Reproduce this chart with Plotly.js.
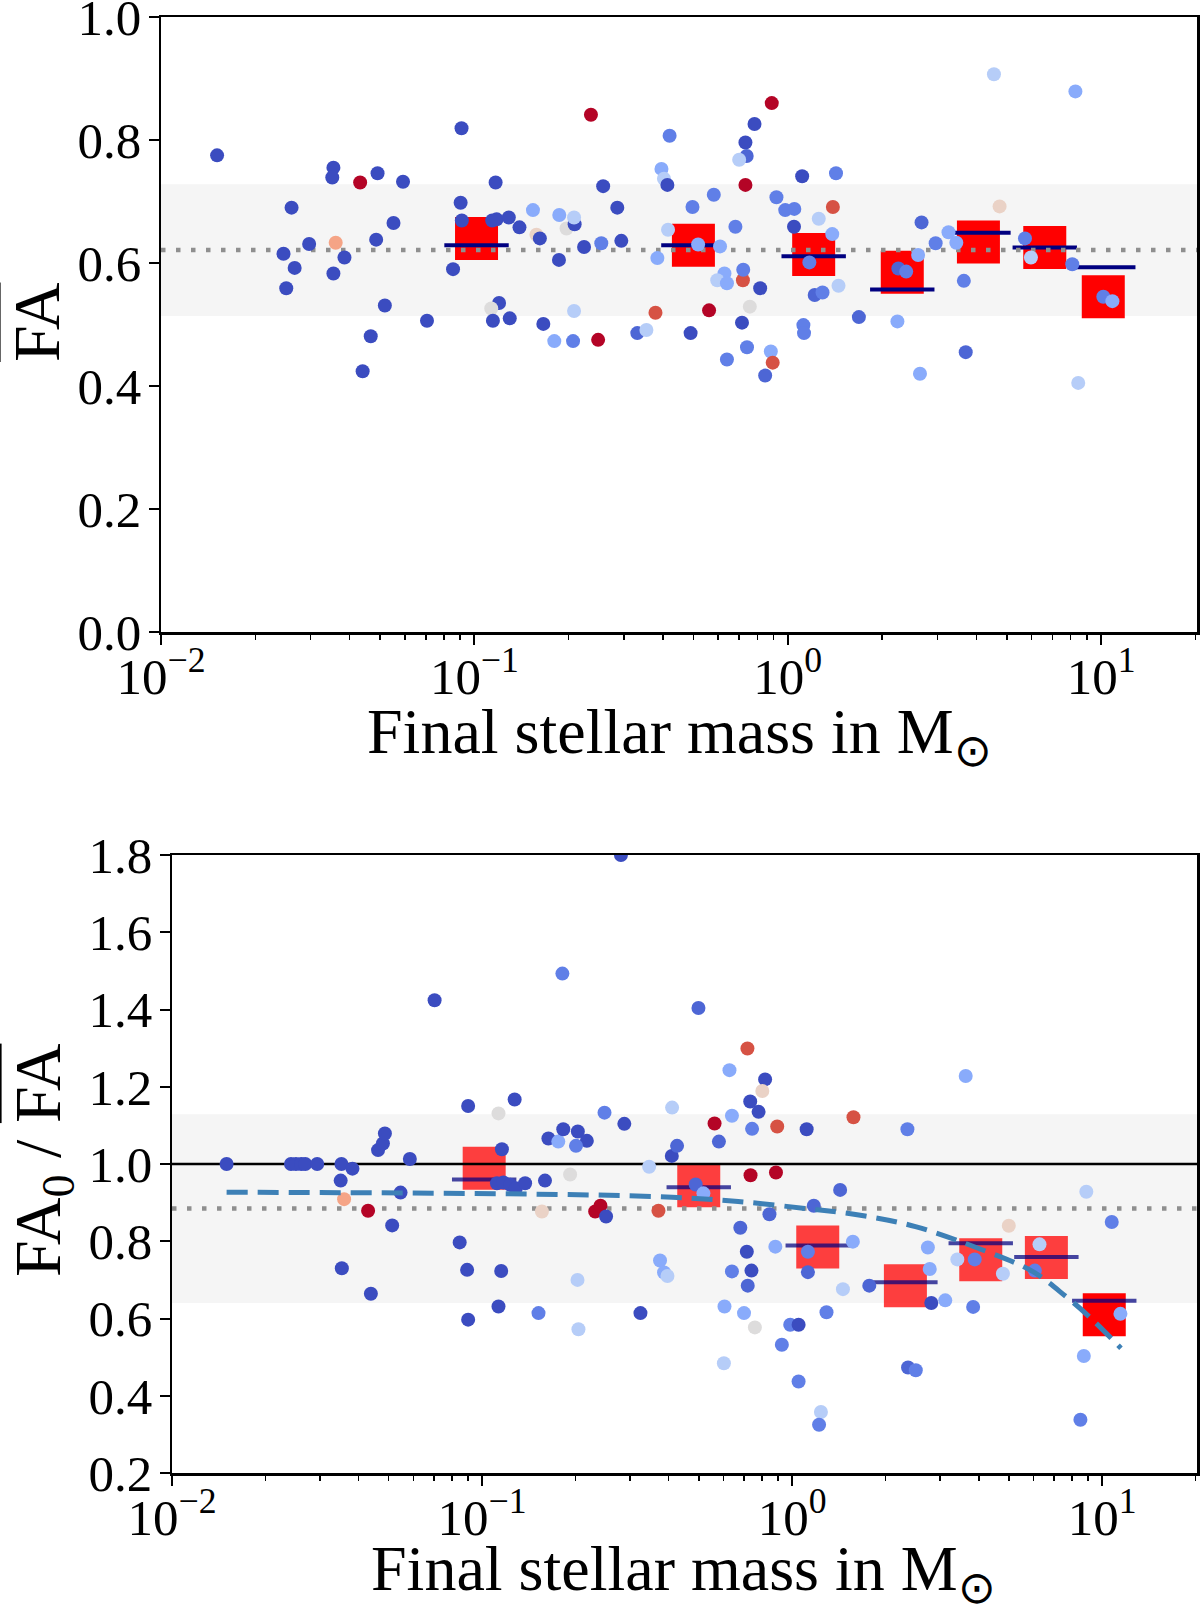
<!DOCTYPE html>
<html>
<head>
<meta charset="utf-8">
<script src="https://cdn.plot.ly/plotly-3.0.1.min.js"></script>
<style>
  html, body { margin: 0; padding: 0; background: #fff; }
  #chart { width: 1200px; height: 1609px; }
</style>
</head>
<body>
<div id="chart"></div>
<script>
// ── data ────────────────────────────────────────────────────────────────────

// top panel: mean FA per star
const massTop = [
  0.0151, 0.0261, 0.0246, 0.0267, 0.0251, 0.0297, 0.0355, 0.0352, 0.0361, 0.0355,
  0.0385, 0.0432, 0.0491, 0.0486, 0.0552, 0.0592, 0.0467, 0.0440, 0.0518, 0.0706,
  0.0910, 0.0904, 0.0912, 0.0855, 0.1169, 0.1140, 0.1178, 0.1288, 0.1393, 0.1199,
  0.1132, 0.1146, 0.1297, 0.1538, 0.1578, 0.1618, 0.1660, 0.1799, 0.1866, 0.1862,
  0.1968, 0.2089, 0.2080, 0.2080, 0.2065, 0.2239, 0.2355, 0.2483, 0.2541, 0.2576,
  0.2858, 0.2944, 0.3311, 0.3540, 0.3784, 0.3837, 0.3954, 0.4027, 0.4130, 0.4150,
  0.4198, 0.4966, 0.5176, 0.6081, 0.5808, 0.6808, 0.6281, 0.5957, 0.6397, 0.7194,
  0.7211, 0.8166, 0.7568, 0.7145, 0.7413, 0.6397, 0.8831, 0.8954, 0.8472, 0.5610,
  0.4898, 0.7328, 0.7834, 0.8892, 0.7328, 0.7396, 0.6998, 0.9204, 0.9817, 1.0495,
  1.0471, 1.1117, 1.4256, 1.2560, 1.3868, 1.3932, 1.1722, 1.4521, 1.2190, 1.2912,
  1.1220, 1.1272, 1.6866, 2.2387, 2.6424, 2.2542, 2.3878, 2.6062, 2.6730, 2.9648,
  3.2584, 3.4514, 3.6475, 3.6983, 4.5499, 4.7424, 5.7148, 5.9704, 8.0910, 8.2794,
  8.4528, 10.163, 10.864
];
const faTop = [
  0.775, 0.690, 0.615, 0.592, 0.559, 0.631, 0.755, 0.739, 0.633, 0.583,
  0.609, 0.731, 0.746, 0.638, 0.665, 0.732, 0.481, 0.424, 0.531, 0.506,
  0.819, 0.698, 0.669, 0.590, 0.731, 0.669, 0.671, 0.674, 0.658, 0.535,
  0.526, 0.506, 0.510, 0.686, 0.646, 0.640, 0.501, 0.473, 0.678, 0.605,
  0.656, 0.663, 0.674, 0.522, 0.473, 0.626, 0.841, 0.475, 0.632, 0.725,
  0.690, 0.636, 0.486, 0.491, 0.519, 0.608, 0.753, 0.737, 0.727, 0.654,
  0.807, 0.691, 0.630, 0.627, 0.711, 0.659, 0.583, 0.572, 0.567, 0.572,
  0.589, 0.559, 0.529, 0.503, 0.463, 0.443, 0.456, 0.438, 0.417, 0.523,
  0.486, 0.727, 0.826, 0.860, 0.796, 0.774, 0.768, 0.707, 0.686, 0.688,
  0.659, 0.741, 0.746, 0.672, 0.647, 0.691, 0.601, 0.563, 0.548, 0.552,
  0.499, 0.486, 0.512, 0.505, 0.420, 0.591, 0.586, 0.613, 0.666, 0.632,
  0.650, 0.633, 0.571, 0.455, 0.907, 0.692, 0.640, 0.609, 0.598, 0.879,
  0.405, 0.545, 0.538
];
// colour value of each star on the coolwarm scale (0 = blue, 1 = red)
const colTop = [
  0, 0, 0, 0, 0, 0, 0, 0, .72, 0,
  0, 1, 0, 0, 0, 0, 0, 0, 0, 0,
  0, 0, 0, 0, 0, 0, 0, 0, 0, 0,
  .5, 0, 0, .24, .56, 0, 0, .24, .24, 0,
  .5, 0, .37, .37, .12, 0, 1, 1, .12, 0,
  0, 0, .06, .37, .9, .24, .24, .37, 0, .37,
  .12, .12, .24, .24, .12, .12, .24, .37, .24, .9,
  .12, 0, .5, 0, .12, .12, .24, .9, .06, 1,
  0, 1, 0, 1, 0, .06, .37, .12, .12, .12,
  0, 0, .12, .37, .24, .9, .12, .37, .06, .12,
  .12, .12, .06, .24, .24, .06, .12, .24, .06, .12,
  .24, .24, .12, .06, .37, .56, .12, .37, .12, .24,
  .37, .12, .24
];

// bottom panel: FA_0 / mean FA per star
const massBot = [
  0.0150, 0.0242, 0.0251, 0.0261, 0.0269, 0.0294, 0.0352, 0.0382, 0.0350, 0.0359,
  0.0429, 0.0462, 0.0479, 0.0486, 0.0513, 0.0546, 0.0585, 0.0353, 0.0438, 0.0703,
  0.0902, 0.0847, 0.0895, 0.0902, 0.1130, 0.1274, 0.1159, 0.1117, 0.1172, 0.1233,
  0.1285, 0.1377, 0.1153, 0.1130, 0.1521, 0.1560, 0.1596, 0.1637, 0.1762, 0.1828,
  0.1816, 0.2037, 0.2178, 0.2009, 0.1923, 0.2032, 0.2046, 0.2317, 0.2410, 0.2512,
  0.2483, 0.2877, 0.3243, 0.3459, 0.3707, 0.3750, 0.3864, 0.3963, 0.4102, 0.4093,
  0.4256, 0.4887, 0.5176, 0.4989, 0.5623, 0.5808, 0.6397, 0.6281, 0.7178, 0.8185,
  0.8017, 0.7328, 0.7798, 0.7430, 0.8954, 0.7345, 0.8872, 1.1143, 1.5776, 1.4289,
  1.1749, 0.8453, 0.6808, 0.7145, 0.6397, 0.7396, 0.7194, 0.8831, 1.1246, 1.1246,
  1.5704, 1.4588, 1.2912, 0.6053, 0.6998, 0.7586, 0.9863, 1.0495, 0.9268, 0.6026,
  1.0495, 0.2805, 2.3550, 3.6308, 1.7742, 2.7416, 2.7797, 2.8119, 3.1189, 2.3659,
  2.5061, 3.4119, 3.8815, 3.8371, 4.7863, 5.0003, 6.2806, 6.0674, 8.8920, 10.740,
  11.455, 8.7297, 8.5114, 1.2388, 1.2218
];
const ratioBot = [
  1.000, 1.000, 1.000, 1.000, 1.000, 1.000, 1.000, 0.988, 0.957, 0.909,
  0.879, 1.036, 1.053, 1.079, 0.841, 0.926, 1.013, 0.730, 0.664, 1.424,
  1.150, 0.797, 0.726, 0.597, 1.131, 1.167, 1.038, 0.950, 0.952, 0.946,
  0.937, 0.950, 0.723, 0.631, 0.614, 0.877, 0.957, 1.066, 1.058, 1.090,
  1.493, 1.084, 1.060, 1.047, 0.973, 0.700, 0.572, 0.877, 0.892, 0.864,
  1.133, 1.104, 0.614, 0.993, 0.879, 0.750, 0.719, 0.710, 1.146, 1.021,
  1.047, 0.947, 0.924, 1.404, 1.105, 1.058, 1.125, 1.243, 1.299, 1.219,
  1.189, 1.162, 1.135, 1.091, 1.097, 0.971, 0.978, 1.090, 1.121, 0.933,
  0.892, 0.870, 0.835, 0.773, 0.722, 0.724, 0.685, 0.786, 0.773, 0.720,
  0.799, 0.676, 0.616, 0.631, 0.614, 0.577, 0.584, 0.584, 0.532, 0.484,
  0.437, 1.800, 1.090, 1.228, 0.685, 0.784, 0.728, 0.640, 0.647, 0.473,
  0.466, 0.753, 0.753, 0.630, 0.716, 0.840, 0.792, 0.724, 0.928, 0.850,
  0.612, 0.503, 0.338, 0.358, 0.325
];
const colBot = [
  0, 0, 0, 0, 0, 0, 0, 0, 0, .72,
  1, 0, 0, 0, 0, 0, 0, 0, 0, 0,
  0, 0, 0, 0, .5, 0, 0, 0, 0, 0,
  0, 0, 0, 0, .12, .56, 0, 0, .24, 0,
  .12, 0, 0, .12, .5, .37, .37, 1, 1, 0,
  .12, 0, 0, .37, .9, .24, .24, .37, .37, 0,
  .06, .06, .24, .06, 1, .06, .24, .24, .9, 0,
  .56, 0, 0, .12, .9, 1, 1, 0, .9, .06,
  .06, .06, .06, 0, .12, 0, .06, .24, .12, .06,
  .24, .37, .12, .24, .24, .5, .12, 0, .12, .37,
  .12, 0, .12, .24, .06, .24, .24, 0, .24, .06,
  .12, .37, .12, .12, .37, .56, .37, .12, .37, .12,
  .24, .24, .12, .37, .12
];

// mass bins: mean (red squares) and median (dark bars)
const binMass    = [0.1016, 0.50, 1.21, 2.32, 4.06, 6.61, 10.16];
const binMeanTop = [0.640, 0.629, 0.614, 0.585, 0.634, 0.625, 0.545];
const binMedTop  = [0.629, 0.629, 0.611, 0.557, 0.649, 0.625, 0.593];
const binMeanBot = [0.989, 0.944, 0.785, 0.685, 0.752, 0.758, 0.610];
const binMedBot  = [0.960, 0.940, 0.789, 0.694, 0.795, 0.759, 0.646];
const binAlphaBot = [0.75, 0.75, 0.75, 0.75, 0.75, 0.75, 1.0];

// dashed trend in the lower panel
const fitMass  = [0.015, 0.15, 0.41, 0.67, 1.10, 1.64, 2.50, 4.10, 5.96, 7.64, 9.08, 11.5];
const fitRatio = [0.927, 0.922, 0.914, 0.903, 0.885, 0.868, 0.838, 0.778, 0.722, 0.657, 0.605, 0.523];

// sample mean and +-1 sigma band
const meanTop = 0.621;
const bandTop = [0.514, 0.728];
const meanBot = 0.885;
const bandBot = [0.640, 1.129];
const unity = 1.0;

// axes
const xRangeLog = [-2, 1.306];
const yRangeTop = [0, 1];
const yRangeBot = [0.2, 1.8];
const yTicksTop = [0, 0.2, 0.4, 0.6, 0.8, 1.0];
const yTicksBot = [0.2, 0.4, 0.6, 0.8, 1.0, 1.2, 1.4, 1.6, 1.8];
const xMajor = [0.01, 0.1, 1, 10];
const xMajorText = ['10<sup>\u22122</sup>', '10<sup>\u22121</sup>', '10<sup>0</sup>', '10<sup>1</sup>'];
const xMinor = [0.02, 0.03, 0.04, 0.05, 0.06, 0.07, 0.08, 0.09,
                0.2, 0.3, 0.4, 0.5, 0.6, 0.7, 0.8, 0.9,
                2, 3, 4, 5, 6, 7, 8, 9, 20];

// ── styling ─────────────────────────────────────────────────────────────────

const W = 1200, H = 1609;
const FONT = '"Liberation Serif", "Times New Roman", serif';

const coolwarm = [
  [0.0, '#3b4cc0'], [0.1, '#5977e3'], [0.2, '#7b9ff9'], [0.3, '#9ebeff'],
  [0.4, '#c0d4f5'], [0.5, '#dddcdc'], [0.6, '#f2cbb7'], [0.7, '#f7ac8e'],
  [0.8, '#ee8468'], [0.9, '#d65244'], [1.0, '#b40426'],
];

// pixel positions of the two panels -> paper fractions
function px(x) { return x / W; }
function py(y) { return 1 - y / H; }

const xSpan = [Math.pow(10, xRangeLog[0]), Math.pow(10, xRangeLog[1])];

function hline(xa, ya, value, color, width, dash) {
  return {
    x: xSpan, y: [value, value], xaxis: xa, yaxis: ya,
    type: 'scatter', mode: 'lines', hoverinfo: 'skip', showlegend: false,
    line: { color, width, dash },
  };
}

function binSquares(xa, ya, yvals, colors) {
  return {
    x: binMass, y: yvals, xaxis: xa, yaxis: ya,
    type: 'scatter', mode: 'markers', showlegend: false, hoverinfo: 'skip',
    marker: { symbol: 'square', size: 43, color: colors, line: { width: 0 } },
  };
}

function binBars(xa, ya, yvals, color) {
  return {
    x: binMass, y: yvals, xaxis: xa, yaxis: ya,
    type: 'scatter', mode: 'markers', showlegend: false, hoverinfo: 'skip',
    marker: { symbol: 'line-ew', size: 46, line: { width: 4, color } },
  };
}

function stars(xa, ya, xs, ys, cs) {
  return {
    x: xs, y: ys, xaxis: xa, yaxis: ya,
    type: 'scatter', mode: 'markers', showlegend: false, hoverinfo: 'skip',
    marker: {
      size: 14, color: cs, colorscale: coolwarm, cmin: 0, cmax: 1,
      showscale: false, line: { width: 0 },
    },
  };
}

const redTop = binMass.map(function () { return '#ff0000'; });
const redBot = binAlphaBot.map(function (a) { return 'rgba(255,0,0,' + a + ')'; });

const traces = [
  binSquares('x', 'y', binMeanTop, redTop),
  binBars('x', 'y', binMedTop, '#000080'),
  hline('x', 'y', meanTop, '#8f8f8f', 4.5, '4.5px,10.5px'),
  stars('x', 'y', massTop, faTop, colTop),

  binSquares('x2', 'y2', binMeanBot, redBot),
  binBars('x2', 'y2', binMedBot, 'rgba(0,0,128,0.72)'),
  hline('x2', 'y2', meanBot, '#8f8f8f', 4.5, '4.5px,10.5px'),
  hline('x2', 'y2', unity, '#000000', 2.5, 'solid'),
  stars('x2', 'y2', massBot, ratioBot, colBot),
  {
    x: fitMass, y: fitRatio, xaxis: 'x2', yaxis: 'y2',
    type: 'scatter', mode: 'lines', showlegend: false, hoverinfo: 'skip',
    line: { color: '#3d80b6', width: 5, dash: '21px,10px', shape: 'spline', smoothing: 1 },
  },
];

const tickFont = { family: FONT, size: 51, color: '#000' };

function xAxis(domain, anchor) {
  return {
    type: 'log', range: xRangeLog, domain, anchor,
    tickmode: 'array', tickvals: xMajor, ticktext: xMajorText,
    ticks: 'outside', ticklen: 10, tickwidth: 2, tickcolor: '#000',
    tickfont: tickFont, ticklabelstandoff: -12, ticklabeloverflow: 'allow',
    minor: {
      tickmode: 'array', tickvals: xMinor, ticks: 'outside',
      ticklen: 5, tickwidth: 1.5, tickcolor: '#000', showgrid: false,
    },
    showline: true, linecolor: '#000', linewidth: 2.5, mirror: true,
    showgrid: false, zeroline: false,
  };
}

function yAxis(domain, anchor, range, ticks) {
  return {
    range, domain, anchor,
    tickmode: 'array', tickvals: ticks, tickformat: '.1f',
    ticks: 'outside', ticklen: 10, tickwidth: 2, tickcolor: '#000',
    tickfont: tickFont, ticklabelstandoff: -3, ticklabeloverflow: 'allow',
    showline: true, linecolor: '#000', linewidth: 2.5, mirror: true,
    showgrid: false, zeroline: false,
  };
}

function band(xa, ya, lims) {
  return {
    type: 'rect', xref: xa + ' domain', yref: ya, layer: 'below',
    x0: 0, x1: 1, y0: lims[0], y1: lims[1],
    fillcolor: '#f5f5f5', line: { width: 0 },
  };
}

const faBar = '<span style="text-decoration:overline">FA</span>';

function label(text, x, y, size, angle) {
  return {
    text, xref: 'paper', yref: 'paper', x, y,
    xanchor: 'center', yanchor: 'middle', showarrow: false,
    textangle: angle || 0, font: { family: FONT, size, color: '#000' },
  };
}

const layout = {
  width: W, height: H,
  margin: { l: 0, r: 0, t: 0, b: 0 },
  paper_bgcolor: '#fff', plot_bgcolor: 'rgba(0,0,0,0)',
  showlegend: false,
  xaxis:  xAxis([px(161), px(1197)], 'y'),
  yaxis:  yAxis([py(632), py(17)], 'x', yRangeTop, yTicksTop),
  xaxis2: xAxis([px(172), px(1197)], 'y2'),
  yaxis2: yAxis([py(1473), py(855)], 'x2', yRangeBot, yTicksBot),
  shapes: [band('x', 'y', bandTop), band('x2', 'y2', bandBot)],
  annotations: [
    label(faBar, px(36), py(322), 66, -90),
    label('Final stellar mass in M<sub>\u2299</sub>', px(679), py(736), 64),
    label('FA<sub>0</sub> / ' + faBar, px(42), py(1160), 66, -90),
    label('Final stellar mass in M<sub>\u2299</sub>', px(684), py(1573), 64),
  ],
};

Plotly.newPlot('chart', traces, layout, { staticPlot: true, displayModeBar: false });
</script>
</body>
</html>
